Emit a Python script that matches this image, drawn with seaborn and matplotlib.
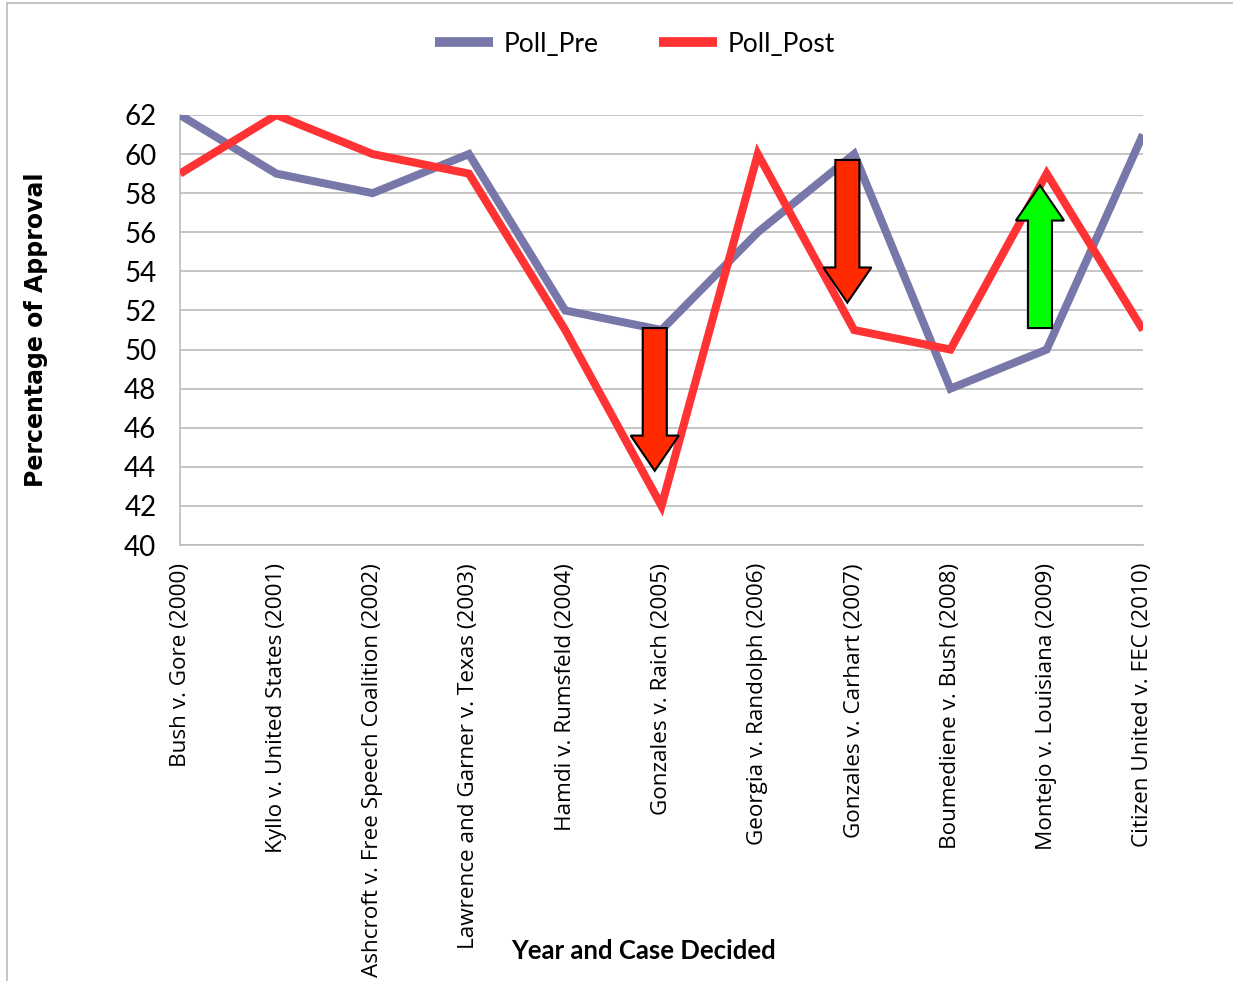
import matplotlib
matplotlib.use("Agg")

import matplotlib.pyplot as plt
from matplotlib.lines import Line2D
from matplotlib.patches import FancyArrow
import pandas as pd
import seaborn as sns

CASES = [
    "Bush v. Gore (2000)",
    "Kyllo v. United States (2001)",
    "Ashcroft v. Free Speech Coalition (2002)",
    "Lawrence and Garner v. Texas (2003)",
    "Hamdi v. Rumsfeld (2004)",
    "Gonzales v. Raich (2005)",
    "Georgia v. Randolph (2006)",
    "Gonzales v. Carhart (2007)",
    "Boumediene v. Bush (2008)",
    "Montejo v. Louisiana (2009)",
    "Citizen United v. FEC (2010)",
]
POLL_PRE = [62, 59, 58, 60, 52, 51, 56, 60, 48, 50, 61]
POLL_POST = [59, 62, 60, 59, 51, 42, 60, 51, 50, 59, 51]
Y_TICKS = list(range(40, 63, 2))

# arrows marking the big shifts: case index, start, end, colour
ARROWS = [
    (5, 51.1, 43.8, "#FF2A00"),
    (7, 59.7, 52.4, "#FF2A00"),
    (9, 51.1, 58.4, "#00FF00"),
]

PRE_COLOR = "#7777AA"
POST_COLOR = "#FF3333"
GRID = "#BBBBBB"
NARROW = ["Lato", "DejaVu Sans"]

sns.set_style("white")
plt.rcParams["text.color"] = "black"
plt.rcParams["xtick.labelcolor"] = "black"
plt.rcParams["ytick.labelcolor"] = "black"
plt.rcParams["axes.labelcolor"] = "black"

df = pd.DataFrame({
    "idx": list(range(len(CASES))) * 2,
    "value": POLL_PRE + POLL_POST,
    "series": ["Poll_Pre"] * len(CASES) + ["Poll_Post"] * len(CASES),
})

fig = plt.figure(figsize=(12.33, 9.81), dpi=100)
ax = fig.add_axes([0.146, 0.4444, 0.781, 0.4384])

sns.lineplot(
    data=df, x="idx", y="value", hue="series",
    palette={"Poll_Pre": PRE_COLOR, "Poll_Post": POST_COLOR},
    linewidth=5.8, legend=False, ax=ax, zorder=3,
)
for line in ax.get_lines():
    line.set_solid_capstyle("butt")
    line.set_solid_joinstyle("miter")

for i, y0, y1, color in ARROWS:
    ax.add_patch(FancyArrow(
        i - 0.07, y0, 0, y1 - y0,
        width=0.25, head_width=0.5, head_length=1.8,
        length_includes_head=True, facecolor=color,
        edgecolor="black", linewidth=1.5, zorder=5,
    ))

ax.set_xlim(0, len(CASES) - 1)
ax.set_ylim(40, 62)
ax.set_yticks(Y_TICKS)
ax.set_yticklabels([str(t) for t in Y_TICKS], family=NARROW, fontsize=20)
ax.set_xticks(range(len(CASES)))
ax.set_xticklabels(CASES, rotation=90, fontsize=16.2, family="Open Sans",
                   va="top", ha="center")
ax.grid(axis="y", color=GRID, linewidth=1.2)
ax.grid(axis="x", visible=False)
ax.tick_params(axis="y", length=7, color=GRID, width=1.2, pad=10)
ax.tick_params(axis="x", length=9, color=GRID, width=1.2, pad=4)
for side in ["top", "right"]:
    ax.spines[side].set_visible(False)
for side in ["left", "bottom"]:
    ax.spines[side].set_color(GRID)
    ax.spines[side].set_linewidth(1.2)
ax.set_xlabel("")
ax.set_ylabel("Percentage of Approval", fontsize=17, fontweight="bold",
              family="DejaVu Sans")
ax.yaxis.set_label_coords(-0.137, 0.5)

fig.text(0.522, 0.031, "Year and Case Decided", ha="center", va="center",
         fontsize=18.5, fontweight="bold", family=NARROW)

handles = [
    Line2D([], [], color=PRE_COLOR, linewidth=7, solid_capstyle="butt"),
    Line2D([], [], color=POST_COLOR, linewidth=7, solid_capstyle="butt"),
]
fig.legend(handles, ["Poll_Pre", "Poll_Post"], loc="center",
           bbox_to_anchor=(0.515, 0.955), ncol=2, frameon=False,
           prop={"family": NARROW, "size": 19}, handlelength=2.2,
           handletextpad=0.4, columnspacing=2.3)

# thin frame at the top and left edges
fig.add_artist(Line2D([0.006, 1.0], [0.997, 0.997], color=GRID, linewidth=1.2))
fig.add_artist(Line2D([0.006, 0.006], [0.0, 0.997], color=GRID, linewidth=1.2))

plt.savefig("out.png", dpi=100)
plt.close()
